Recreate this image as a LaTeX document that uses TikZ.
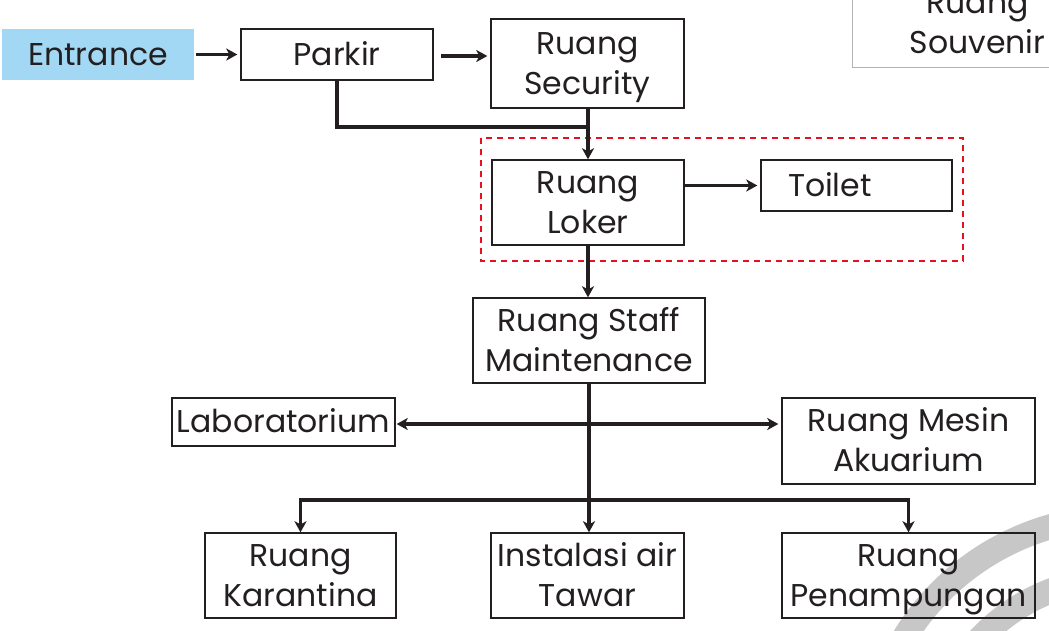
\documentclass[tikz,border=0pt]{standalone}
\usepackage{fontspec}
\setmainfont{Poppins}
\usetikzlibrary{arrows.meta}
\definecolor{entblue}{HTML}{A2D8F4}
\definecolor{ink}{HTML}{231F20}
\definecolor{dashred}{HTML}{E8101E}
\newcommand{\lnst}{\rule[-9pt]{0pt}{39pt}}
\tikzset{
  box/.style={draw=ink, line width=1.4pt, align=center, inner sep=0pt, font=\fontsize{31.5}{40}\selectfont, text=ink},
  conn/.style={draw=ink, line width=3.2pt},
  arr/.style={conn, -{Stealth[length=11pt,width=12pt,inset=3pt]}},
  biarr/.style={conn, {Stealth[length=11pt,width=12pt,inset=3pt]}-{Stealth[length=11pt,width=12pt,inset=3pt]}},
  wm/.style={draw=black!22, line width=25pt}
}
\begin{document}
\begin{tikzpicture}[x=1pt,y=-1pt]
\useasboundingbox (0,0) rectangle (1049,630);
\fill[white] (0,0) rectangle (1049,630);
% watermark arcs
\draw[wm] (1120,770) ++(200:253) arc[start angle=200, end angle=280, radius=253];
\draw[wm] (1120,770) ++(200:192) arc[start angle=200, end angle=280, radius=192];
% nodes
\node[box, draw=none, fill=entblue, minimum width=192pt, minimum height=51pt] (ent) at (98,54.5) {\lnst Entrance};
\node[box, minimum width=192pt, minimum height=51pt] (park) at (337,54.5) {\lnst Parkir};
\node[box, minimum width=193pt, minimum height=89pt] (sec) at (587.5,63.5) {\lnst Ruang\\\lnst Security};
\node[box, draw=black!30, line width=1pt, minimum width=250pt, minimum height=90pt, anchor=south west] (souv) at (852,68) {\lnst Ruang\\\lnst Souvenir};
\node[box, minimum width=192pt, minimum height=85pt] (lok) at (588,202.5) {\lnst Ruang\\\lnst Loker};
\node[box, minimum width=191pt, minimum height=51pt, text width=137pt, inner xsep=27pt, align=left] (toi) at (856.5,185.5) {\lnst Toilet};
\node[box, minimum width=232pt, minimum height=85pt] (staff) at (589,340.5) {\lnst Ruang Staff\\\lnst Maintenance};
\node[box, minimum width=223pt, minimum height=48pt] (lab) at (283.5,422) {\lnst Laboratorium};
\node[box, minimum width=253pt, minimum height=86pt] (mes) at (908.5,441) {\lnst Ruang Mesin\\\lnst Akuarium};
\node[box, minimum width=191pt, minimum height=85pt] (kar) at (300.5,575.5) {\lnst Ruang\\\lnst Karantina};
\node[box, minimum width=193pt, minimum height=85pt] (ins) at (587.5,575.5) {\lnst Instalasi air\\\lnst Tawar};
\node[box, minimum width=253pt, minimum height=85pt] (pen) at (908.5,575.5) {\lnst Ruang\\\lnst Penampungan};
% dashed group
\draw[dashred, line width=2.4pt, dash pattern=on 6pt off 5pt] (481,138) rectangle (963,261);
% connectors
\coordinate (j1) at (589,127);
\coordinate (bus) at (589,500);
\draw[arr, shorten <=1pt, shorten >=3pt] (ent.east) -- (park.west);
\draw[arr, shorten <=7pt, shorten >=3pt] (park.east |- 0,56) -- (sec.west |- 0,56);
\draw[conn] (park.south) |- (j1);
\draw[arr] (lok.north |- sec.south) -- (lok.north);
\draw[arr, shorten >=3pt] (lok.east |- toi.west) -- (toi.west);
\draw[arr] (lok.south) -- (lok.south |- staff.north);
\draw[arr] (staff.south) -- (staff.south |- ins.north);
\draw[biarr, shorten <=1pt, shorten >=3pt] (lab.east |- 0,424) -- (mes.west |- 0,424);
\draw[arr] (bus) -| (kar.north);
\draw[arr] (bus) -| (pen.north);
\end{tikzpicture}
\end{document}
